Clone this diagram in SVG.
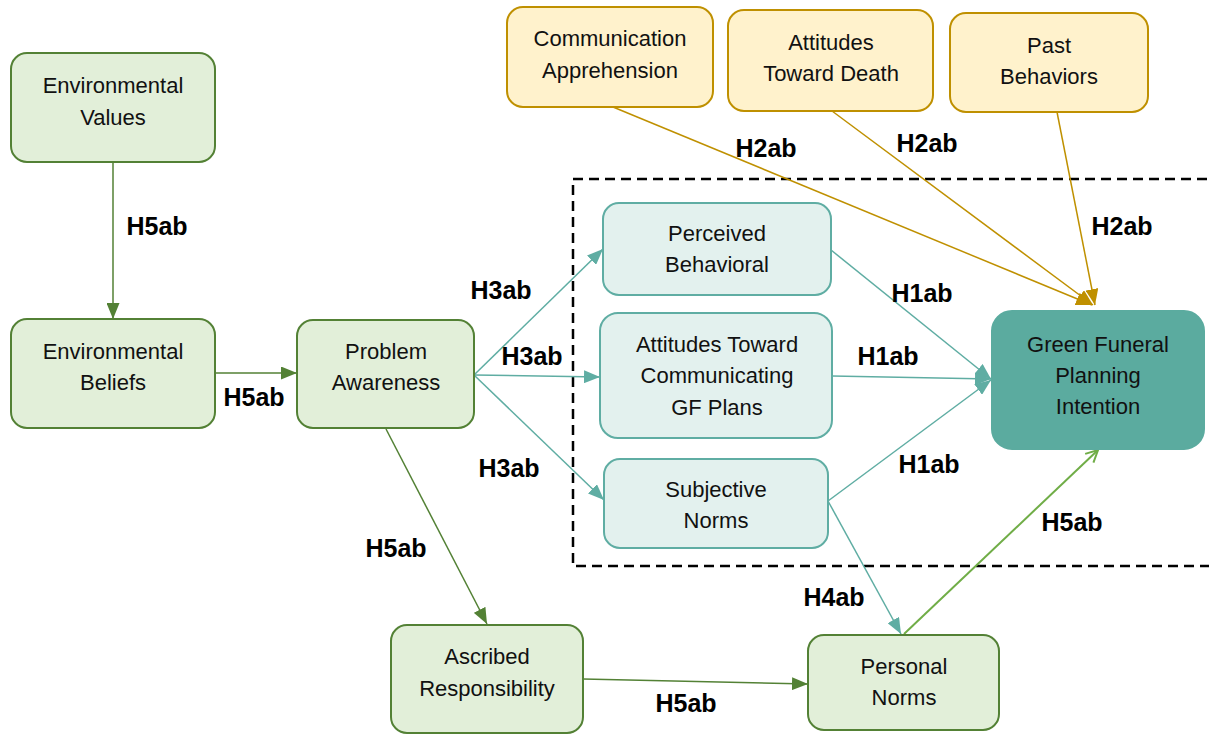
<svg xmlns="http://www.w3.org/2000/svg" width="1209" height="734" viewBox="0 0 1209 734">
  <style>
    .node-green rect { fill: #e2efd9; stroke: #538135; stroke-width: 2; }
    .node-teal rect { fill: #e3f1ee; stroke: #5fada3; stroke-width: 2; }
    .node-gold rect { fill: #fff2cc; stroke: #bf9000; stroke-width: 2; }
    .node-main rect { fill: #5bab9f; stroke: #5bab9f; stroke-width: 2; }
    .txt { font-family: "Liberation Sans", Arial, sans-serif; font-size: 22px; fill: #111; text-anchor: middle; }
    .lbl { font-family: "Liberation Sans", Arial, sans-serif; font-size: 25px; font-weight: bold; fill: #000; text-anchor: middle; }
    .c-green { stroke: #538135; stroke-width: 1.5; fill: none; marker-end: url(#ah-green); }
    .c-teal { stroke: #5fada3; stroke-width: 1.5; fill: none; marker-end: url(#ah-teal); }
    .c-gold { stroke: #bf9000; stroke-width: 1.5; fill: none; marker-end: url(#ah-gold); }
    .c-lime { stroke: #70ad47; stroke-width: 2; fill: none; marker-end: url(#ah-open); }
    .group-box { fill: none; stroke: #000; stroke-width: 2.5; stroke-dasharray: 10 6; }
  </style>
  <defs>
    <marker id="ah-green" viewBox="0 0 16 13" refX="16" refY="6.5" markerWidth="16" markerHeight="13" markerUnits="userSpaceOnUse" orient="auto">
      <path d="M0,0 L16,6.5 L0,13 z" fill="#538135"/>
    </marker>
    <marker id="ah-teal" viewBox="0 0 16 13" refX="16" refY="6.5" markerWidth="16" markerHeight="13" markerUnits="userSpaceOnUse" orient="auto">
      <path d="M0,0 L16,6.5 L0,13 z" fill="#5fada3"/>
    </marker>
    <marker id="ah-gold" viewBox="0 0 16 13" refX="16" refY="6.5" markerWidth="16" markerHeight="13" markerUnits="userSpaceOnUse" orient="auto">
      <path d="M0,0 L16,6.5 L0,13 z" fill="#bf9000"/>
    </marker>
    <marker id="ah-open" viewBox="0 0 14 14" refX="13" refY="7" markerWidth="14" markerHeight="14" markerUnits="userSpaceOnUse" orient="auto">
      <path d="M1,1 L13,7 L1,13" fill="none" stroke="#70ad47" stroke-width="2"/>
    </marker>
  </defs>

  <!-- dashed grouping frame around the TPB constructs -->
  <rect class="group-box" x="573" y="179" width="645" height="387"/>

  <!-- connectors -->
  <g id="connectors">
    <path class="c-green" d="M113,162 L113,319"/>
    <path class="c-green" d="M215,373 L297,373"/>
    <path class="c-green" d="M386,429 L487,624"/>
    <path class="c-green" d="M583,679 L808,684"/>

    <path class="c-teal" d="M474,375 L603,249"/>
    <path class="c-teal" d="M474,375 L600,377"/>
    <path class="c-teal" d="M474,375 L604,500"/>
    <path class="c-teal" d="M831,250 L991,379"/>
    <path class="c-teal" d="M832,376 L991,379"/>
    <path class="c-teal" d="M828,501 L991,380"/>
    <path class="c-teal" d="M828,501 L901,634"/>

    <path class="c-gold" d="M613,107 L1092,305"/>
    <path class="c-gold" d="M832,111 L1093,305"/>
    <path class="c-gold" d="M1057,112 L1095,305"/>

    <path class="c-lime" d="M904,634 L1098,450"/>

    <!-- hypothesis labels -->
    <text class="lbl" x="157" y="235">H5ab</text>
    <text class="lbl" x="254" y="406">H5ab</text>
    <text class="lbl" x="501" y="299">H3ab</text>
    <text class="lbl" x="532" y="365">H3ab</text>
    <text class="lbl" x="509" y="477">H3ab</text>
    <text class="lbl" x="396" y="557">H5ab</text>
    <text class="lbl" x="686" y="712">H5ab</text>
    <text class="lbl" x="834" y="606">H4ab</text>
    <text class="lbl" x="1072" y="531">H5ab</text>
    <text class="lbl" x="922" y="302">H1ab</text>
    <text class="lbl" x="888" y="365">H1ab</text>
    <text class="lbl" x="929" y="473">H1ab</text>
    <text class="lbl" x="766" y="157">H2ab</text>
    <text class="lbl" x="927" y="152">H2ab</text>
    <text class="lbl" x="1122" y="235">H2ab</text>
  </g>

  <!-- norm-activation chain -->
  <g id="environmental-values" class="node-green">
    <rect x="11" y="53" width="204" height="109" rx="16"/>
    <text class="txt" x="113" y="93">Environmental</text>
    <text class="txt" x="113" y="125">Values</text>
  </g>
  <g id="environmental-beliefs" class="node-green">
    <rect x="11" y="319" width="204" height="109" rx="16"/>
    <text class="txt" x="113" y="359">Environmental</text>
    <text class="txt" x="113" y="390">Beliefs</text>
  </g>
  <g id="problem-awareness" class="node-green">
    <rect x="297" y="320" width="177" height="108" rx="16"/>
    <text class="txt" x="386" y="359">Problem</text>
    <text class="txt" x="386" y="390">Awareness</text>
  </g>
  <g id="ascribed-responsibility" class="node-green">
    <rect x="391" y="625" width="192" height="108" rx="16"/>
    <text class="txt" x="487" y="664">Ascribed</text>
    <text class="txt" x="487" y="696">Responsibility</text>
  </g>
  <g id="personal-norms" class="node-green">
    <rect x="808" y="635" width="191" height="95" rx="16"/>
    <text class="txt" x="904" y="674">Personal</text>
    <text class="txt" x="904" y="705">Norms</text>
  </g>

  <!-- additional predictors -->
  <g id="communication-apprehension" class="node-gold">
    <rect x="507" y="7" width="206" height="100" rx="16"/>
    <text class="txt" x="610" y="46">Communication</text>
    <text class="txt" x="610" y="78">Apprehension</text>
  </g>
  <g id="attitudes-toward-death" class="node-gold">
    <rect x="728" y="10" width="205" height="101" rx="16"/>
    <text class="txt" x="831" y="50">Attitudes</text>
    <text class="txt" x="831" y="81">Toward Death</text>
  </g>
  <g id="past-behaviors" class="node-gold">
    <rect x="950" y="13" width="198" height="99" rx="16"/>
    <text class="txt" x="1049" y="53">Past</text>
    <text class="txt" x="1049" y="84">Behaviors</text>
  </g>

  <!-- TPB constructs -->
  <g id="perceived-behavioral" class="node-teal">
    <rect x="603" y="203" width="228" height="92" rx="16"/>
    <text class="txt" x="717" y="241">Perceived</text>
    <text class="txt" x="717" y="272">Behavioral</text>
  </g>
  <g id="attitudes-toward-communicating" class="node-teal">
    <rect x="600" y="313" width="232" height="125" rx="18"/>
    <text class="txt" x="717" y="352">Attitudes Toward</text>
    <text class="txt" x="717" y="383">Communicating</text>
    <text class="txt" x="717" y="415">GF Plans</text>
  </g>
  <g id="subjective-norms" class="node-teal">
    <rect x="604" y="459" width="224" height="89" rx="16"/>
    <text class="txt" x="716" y="497">Subjective</text>
    <text class="txt" x="716" y="528">Norms</text>
  </g>

  <!-- outcome -->
  <g id="green-funeral-planning-intention" class="node-main">
    <rect x="992" y="311" width="212" height="138" rx="20"/>
    <text class="txt" x="1098" y="352">Green Funeral</text>
    <text class="txt" x="1098" y="383">Planning</text>
    <text class="txt" x="1098" y="414">Intention</text>
  </g>
</svg>
